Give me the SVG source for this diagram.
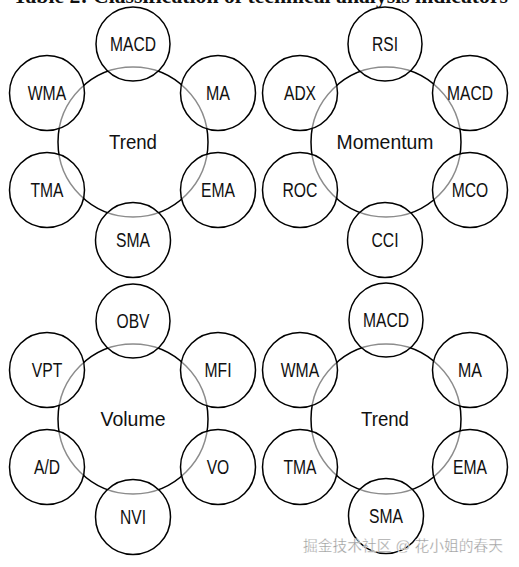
<svg xmlns="http://www.w3.org/2000/svg" width="519" height="567" viewBox="0 0 519 567">
<style>
.bg{fill:#ffffff}
.hub{fill:none;stroke:#000;stroke-width:1.5}
.sat{fill:#ffffff;fill-opacity:0.55;stroke:#000;stroke-width:1.5}
.lbl{font-family:"Liberation Sans",Arial,sans-serif;font-size:19.5px;fill:#111;text-anchor:middle}
.hl{font-family:"Liberation Sans",Arial,sans-serif;font-size:21px;fill:#111;text-anchor:middle}
.title{font-family:"Liberation Serif","Times New Roman",serif;font-size:20px;font-weight:bold;fill:#111}
.wm{font-family:"Liberation Sans","Noto Sans CJK SC",sans-serif;font-size:15px;fill:#9a9a9a;stroke:#fff;stroke-width:0.3}
</style>
<rect class="bg" x="0" y="0" width="519" height="567"/>
<text class="title" x="13" y="2.5" textLength="495" lengthAdjust="spacingAndGlyphs">Table 2: Classification of technical analysis indicators</text>
<g id="connectors"/>

<!-- Cluster 1: Trend -->
<g id="trend1"><circle class="hub" cx="133" cy="142" r="75"/><text class="hl" x="133" y="149" textLength="48" lengthAdjust="spacingAndGlyphs">Trend</text></g>
<g id="t1-macd"><circle class="sat" cx="133" cy="44" r="37"/><text class="lbl" x="133" y="51" textLength="46" lengthAdjust="spacingAndGlyphs">MACD</text></g>
<g id="t1-wma"><circle class="sat" cx="47" cy="93" r="37.5"/><text class="lbl" x="47" y="100" textLength="38.5" lengthAdjust="spacingAndGlyphs">WMA</text></g>
<g id="t1-ma"><circle class="sat" cx="218" cy="93" r="37.5"/><text class="lbl" x="218" y="100" textLength="24" lengthAdjust="spacingAndGlyphs">MA</text></g>
<g id="t1-tma"><circle class="sat" cx="47" cy="190" r="37.5"/><text class="lbl" x="47" y="197" textLength="33" lengthAdjust="spacingAndGlyphs">TMA</text></g>
<g id="t1-ema"><circle class="sat" cx="218" cy="190" r="37.5"/><text class="lbl" x="218" y="197" textLength="34" lengthAdjust="spacingAndGlyphs">EMA</text></g>
<g id="t1-sma"><circle class="sat" cx="133" cy="240" r="37.5"/><text class="lbl" x="133" y="247" textLength="34" lengthAdjust="spacingAndGlyphs">SMA</text></g>

<!-- Cluster 2: Momentum -->
<g id="momentum"><circle class="hub" cx="386" cy="142" r="75"/><text class="hl" x="385" y="149" textLength="97" lengthAdjust="spacingAndGlyphs">Momentum</text></g>
<g id="m-rsi"><circle class="sat" cx="385" cy="44" r="37"/><text class="lbl" x="385" y="51" textLength="26" lengthAdjust="spacingAndGlyphs">RSI</text></g>
<g id="m-adx"><circle class="sat" cx="300" cy="93" r="37.5"/><text class="lbl" x="300" y="100" textLength="32" lengthAdjust="spacingAndGlyphs">ADX</text></g>
<g id="m-macd"><circle class="sat" cx="470" cy="93" r="37.5"/><text class="lbl" x="470" y="100" textLength="46" lengthAdjust="spacingAndGlyphs">MACD</text></g>
<g id="m-roc"><circle class="sat" cx="300" cy="190" r="37.5"/><text class="lbl" x="300" y="197" textLength="35" lengthAdjust="spacingAndGlyphs">ROC</text></g>
<g id="m-mco"><circle class="sat" cx="470" cy="190" r="37.5"/><text class="lbl" x="470" y="197" textLength="36.5" lengthAdjust="spacingAndGlyphs">MCO</text></g>
<g id="m-cci"><circle class="sat" cx="385" cy="240" r="37.5"/><text class="lbl" x="385" y="247" textLength="27" lengthAdjust="spacingAndGlyphs">CCI</text></g>

<!-- Cluster 3: Volume -->
<g id="volume"><circle class="hub" cx="133" cy="419" r="75"/><text class="hl" x="133" y="426" textLength="65" lengthAdjust="spacingAndGlyphs">Volume</text></g>
<g id="v-obv"><circle class="sat" cx="133" cy="321" r="37"/><text class="lbl" x="133" y="328" textLength="33" lengthAdjust="spacingAndGlyphs">OBV</text></g>
<g id="v-vpt"><circle class="sat" cx="47" cy="370" r="37.5"/><text class="lbl" x="47" y="377" textLength="30.5" lengthAdjust="spacingAndGlyphs">VPT</text></g>
<g id="v-mfi"><circle class="sat" cx="218" cy="370" r="37.5"/><text class="lbl" x="218" y="377" textLength="27" lengthAdjust="spacingAndGlyphs">MFI</text></g>
<g id="v-ad"><circle class="sat" cx="47" cy="467" r="37.5"/><text class="lbl" x="47" y="474" textLength="26" lengthAdjust="spacingAndGlyphs">A/D</text></g>
<g id="v-vo"><circle class="sat" cx="218" cy="467" r="37.5"/><text class="lbl" x="218" y="474" textLength="22.6" lengthAdjust="spacingAndGlyphs">VO</text></g>
<g id="v-nvi"><circle class="sat" cx="133" cy="517" r="37.5"/><text class="lbl" x="133" y="524" textLength="26" lengthAdjust="spacingAndGlyphs">NVI</text></g>

<!-- Cluster 4: Trend -->
<g id="trend2"><circle class="hub" cx="386" cy="419" r="75"/><text class="hl" x="385" y="426" textLength="48" lengthAdjust="spacingAndGlyphs">Trend</text></g>
<g id="t2-macd"><circle class="sat" cx="386" cy="320" r="37"/><text class="lbl" x="386" y="327" textLength="46" lengthAdjust="spacingAndGlyphs">MACD</text></g>
<g id="t2-wma"><circle class="sat" cx="300" cy="370" r="37.5"/><text class="lbl" x="300" y="377" textLength="38.5" lengthAdjust="spacingAndGlyphs">WMA</text></g>
<g id="t2-ma"><circle class="sat" cx="470" cy="370" r="37.5"/><text class="lbl" x="470" y="377" textLength="24" lengthAdjust="spacingAndGlyphs">MA</text></g>
<g id="t2-tma"><circle class="sat" cx="300" cy="467" r="37.5"/><text class="lbl" x="300" y="474" textLength="33" lengthAdjust="spacingAndGlyphs">TMA</text></g>
<g id="t2-ema"><circle class="sat" cx="470" cy="467" r="37.5"/><text class="lbl" x="470" y="474" textLength="34" lengthAdjust="spacingAndGlyphs">EMA</text></g>
<g id="t2-sma"><circle class="sat" cx="386" cy="516" r="37.5"/><text class="lbl" x="386" y="523" textLength="34" lengthAdjust="spacingAndGlyphs">SMA</text></g>

<text class="wm" x="303" y="551" textLength="200" lengthAdjust="spacingAndGlyphs">掘金技术社区 @ 花小姐的春天</text>
</svg>
